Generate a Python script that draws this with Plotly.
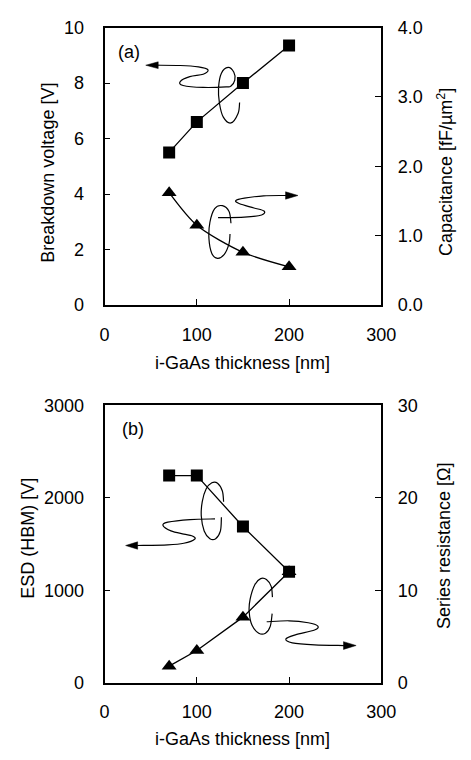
import plotly.graph_objects as go

# ---------------- data ----------------
thickness = [70, 100, 150, 200]
breakdown_v = [5.5, 6.6, 8.0, 9.35]          # left axis (a)
capacitance = [1.62, 1.15, 0.76, 0.55]       # right axis (a), fF/um^2
esd_hbm = [2240, 2240, 1690, 1200]           # left axis (b), V
series_res = [1.8, 3.5, 7.1, 12.0]           # right axis (b), Ohm

x_ticks = [0, 100, 200, 300]
bv_ticks = [0, 2, 4, 6, 8, 10]
cap_ticks = [0, 1, 2, 3, 4]
esd_ticks = [0, 1000, 2000, 3000]
res_ticks = [0, 10, 20, 30]

W, H = 471, 760
FONT = "Arial, Liberation Sans, sans-serif"
FS = 18
BLACK = "#000000"

def px(x, y):
    return x / W, 1 - y / H

# plot areas (pixels)
XL, XR = 104, 393
TOP_A, BOT_A = 18, 303
TOP_B, BOT_B = 406, 691

fig = go.Figure()

fig.add_trace(go.Scatter(x=thickness, y=breakdown_v, xaxis="x", yaxis="y",
                         mode="lines+markers",
                         line=dict(color=BLACK, width=1.3),
                         marker=dict(symbol="square", size=12, color=BLACK),
                         showlegend=False))
fig.add_trace(go.Scatter(x=thickness, y=capacitance, xaxis="x", yaxis="y2",
                         mode="lines+markers",
                         line=dict(color=BLACK, width=1.3, shape="spline", smoothing=0.8),
                         marker=dict(symbol="triangle-up", size=13, color=BLACK),
                         showlegend=False))
fig.add_trace(go.Scatter(x=thickness, y=series_res, xaxis="x2", yaxis="y4",
                         mode="lines+markers",
                         line=dict(color=BLACK, width=1.3),
                         marker=dict(symbol="triangle-up", size=13, color=BLACK),
                         showlegend=False))
fig.add_trace(go.Scatter(x=thickness, y=esd_hbm, xaxis="x2", yaxis="y3",
                         mode="lines+markers",
                         line=dict(color=BLACK, width=1.3),
                         marker=dict(symbol="square", size=12, color=BLACK),
                         showlegend=False))

tickfont = dict(family=FONT, size=FS, color=BLACK)
common = dict(showgrid=False, zeroline=False, showline=True, linecolor=BLACK,
              linewidth=1.8, ticks="inside", tickcolor=BLACK, tickwidth=1,
              ticklen=6, tickfont=tickfont)

xdom = [XL / W, XR / W]
ydom_a = [1 - BOT_A / H, 1 - TOP_A / H]
ydom_b = [1 - BOT_B / H, 1 - TOP_B / H]

fig.update_layout(
    width=W, height=H,
    margin=dict(l=0, r=0, t=0, b=0),
    paper_bgcolor="white", plot_bgcolor="white",
    font=dict(family=FONT, size=FS, color=BLACK),
    xaxis=dict(domain=xdom, anchor="y", range=[0, 300], tickvals=x_ticks,
               mirror=True, ticklabelstandoff=12, **common),
    yaxis=dict(domain=ydom_a, anchor="x", range=[0, 10], tickvals=bv_ticks,
               ticklabelstandoff=15, **common),
    yaxis2=dict(overlaying="y", anchor="x", side="right", range=[0, 4],
                tickvals=cap_ticks, tickformat=".1f", ticklabelstandoff=11, **common),
    xaxis2=dict(domain=xdom, anchor="y3", range=[0, 300], tickvals=x_ticks,
                mirror=True, ticklabelstandoff=12, **common),
    yaxis3=dict(domain=ydom_b, anchor="x2", range=[0, 3000], tickvals=esd_ticks,
                ticklabelstandoff=15, **common),
    yaxis4=dict(overlaying="y3", anchor="x2", side="right", range=[0, 30],
                tickvals=res_ticks, ticklabelstandoff=11, **common),
)

# ---------------- text annotations ----------------
def text(x, y, s, angle=0, xanchor="center"):
    xp, yp = px(x, y)
    fig.add_annotation(x=xp, y=yp, xref="paper", yref="paper", text=s,
                       showarrow=False, textangle=angle, xanchor=xanchor,
                       yanchor="middle", font=dict(family=FONT, size=FS, color=BLACK))

text(248, 363, "i-GaAs thickness [nm]")
text(248, 749, "i-GaAs thickness [nm]")
text(45, 167, "Breakdown voltage [V]", angle=-90)
text(460, 166, "Capacitance [fF/µm<sup>2</sup>]", angle=-90)
text(24, 542, "ESD (HBM) [V]", angle=-90)
text(458, 550, "Series resistance [Ω]", angle=-90)
text(116, 43, "(a)", xanchor="left")
text(120, 430, "(b)", xanchor="left")

# ---------------- hand-drawn curly arrows ----------------
def smooth(points):
    pts = [px(x, y) for x, y in points]
    d = f"M {pts[0][0]:.5f},{pts[0][1]:.5f}"
    n = len(pts)
    for i in range(n - 1):
        p0 = pts[i - 1] if i > 0 else pts[i]
        p1 = pts[i]
        p2 = pts[i + 1]
        p3 = pts[i + 2] if i + 2 < n else pts[i + 1]
        c1 = (p1[0] + (p2[0] - p0[0]) / 6, p1[1] + (p2[1] - p0[1]) / 6)
        c2 = (p2[0] - (p3[0] - p1[0]) / 6, p2[1] - (p3[1] - p1[1]) / 6)
        d += f" C {c1[0]:.5f},{c1[1]:.5f} {c2[0]:.5f},{c2[1]:.5f} {p2[0]:.5f},{p2[1]:.5f}"
    return d

def curve(points):
    fig.add_shape(type="path", path=smooth(points), xref="paper", yref="paper",
                  line=dict(color=BLACK, width=1.2))

def head(tip, base_x, half):
    tx, ty = tip
    a = px(tx, ty)
    b = px(base_x, ty - half)
    c = px(base_x, ty + half)
    path = f"M {a[0]:.5f},{a[1]:.5f} L {b[0]:.5f},{b[1]:.5f} L {c[0]:.5f},{c[1]:.5f} Z"
    fig.add_shape(type="path", path=path, xref="paper", yref="paper",
                  fillcolor=BLACK, line=dict(color=BLACK, width=0.5))

# (a) left-pointing arrow with loop around squares
curve([(245, 95), (243.5, 106), (236, 116), (228, 110), (224, 96), (223, 80),
       (226, 65), (233, 59), (239, 64), (240, 72), (236, 78), (231, 79),
       (207, 79.5), (186, 77.5), (183, 73.5), (193, 68.5), (207, 66),
       (212, 61.5), (202, 58.5), (183, 57), (158, 56.7)])
head((147, 56.7), 160, 3.5)

# (a) right-pointing arrow with loop around triangles
curve([(236, 219), (234, 207), (227, 201), (219, 204), (214, 218), (213, 235),
       (216, 250), (222, 255), (229, 251), (234, 240), (235, 230)])
curve([(222.5, 213.3), (250, 212.7), (268, 210.5), (270.5, 206.5), (260, 203.3),
       (245, 199), (241, 195.7), (250, 193.3), (270, 190.8), (295, 190.5)])
head((306, 190.5), 293, 3.8)

# (b) left-pointing arrow with loop around squares
curve([(228.3, 505), (227, 494), (222, 486), (216, 485.5), (210, 492), (206, 505),
       (205, 520), (208, 535), (214, 543), (220, 543), (225, 535), (226, 521)])
curve([(219.3, 522.7), (193.3, 523.3), (170, 526), (165, 529.5), (173.3, 535),
       (186.7, 538.3), (195, 540), (198.3, 543.3), (186.7, 547.7), (170, 549.3),
       (138, 550)])
head((126, 550), 138.5, 3.8)

# (b) right-pointing arrow with loop around triangles
curve([(279.3, 603), (278, 592), (273, 585), (267, 584), (261, 590), (256, 605),
       (255, 618), (258, 632), (265, 640), (272, 640), (277, 633), (279, 620)])
curve([(273.3, 628.3), (296.7, 627.3), (316.7, 629.3), (326.7, 632.7),
       (323.3, 636.7), (303.3, 641.7), (293.3, 646), (300, 650), (323.3, 652),
       (354, 652.7)])
head((366.7, 652.7), 353.5, 4)

fig.write_html("out.html",
               config={"displayModeBar": False},
               post_script="document.body.style.margin='0';document.body.style.overflow='hidden';")
